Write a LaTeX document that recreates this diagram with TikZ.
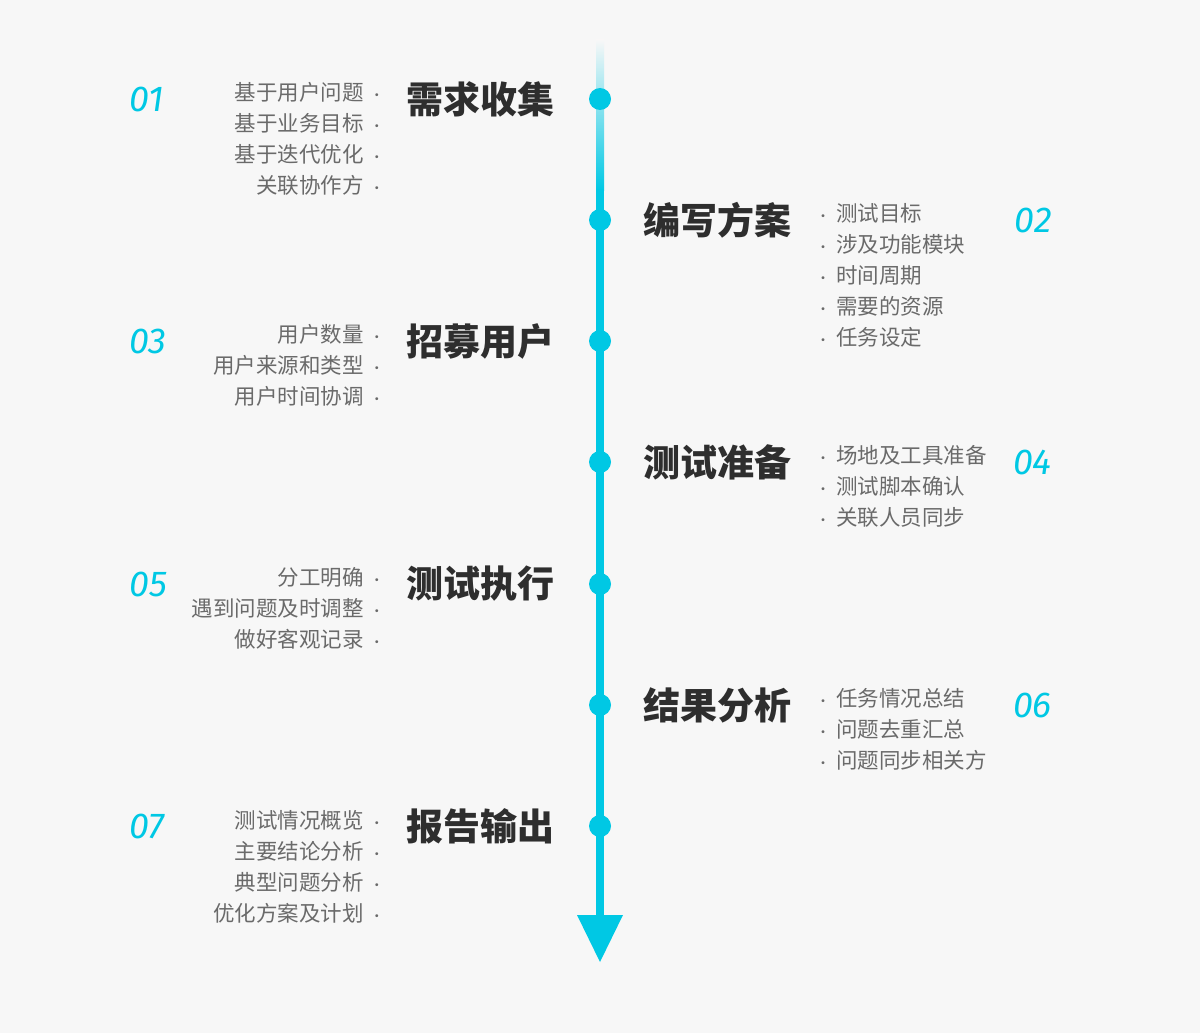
\documentclass[tikz,border=0pt]{standalone}
\usepackage{fontspec}
\setmainfont{Noto Sans CJK SC}
\newfontfamily\numfont{Fira Sans}
\definecolor{cy}{HTML}{00C8E4}
\definecolor{bg}{HTML}{F7F7F7}
\definecolor{tt}{HTML}{2E2E2E}
\definecolor{it}{HTML}{6A6A6A}
\begin{document}
\begin{tikzpicture}[x=1pt,y=-1pt,
 ttl/.style={font=\fontsize{37}{37}\selectfont\bfseries,text=tt,inner sep=0},
 itm/.style={font=\fontsize{21.5}{31}\selectfont,text=it,inner sep=0,align=#1},
 num/.style={font=\numfont\itshape\fontsize{36}{36}\selectfont,text=cy,inner sep=0},
 dot/.style={circle,fill=cy,minimum size=22pt,inner sep=0}]
\fill[bg] (0,0) rectangle (1200,1033);
\useasboundingbox (0,0) rectangle (1200,1033);
\shade[top color=bg,bottom color=cy] (596,40) rectangle (604,190);
\fill[cy] (596,189) rectangle (604,916);
\coordinate (tl) at (577,915); \coordinate (tr) at (623,915); \coordinate (tp) at (600,962);
\fill[cy] (tl) -- (tr) -- (tp) -- cycle;
\foreach \y [count=\i] in {99,220,341,462,584,705,826} \node[dot] (d\i) at (600,\y) {};
\node[ttl,anchor=east] (t1) at (555,99) {需求收集};
\node[ttl,anchor=east] (t3) at (555,341) {招募用户};
\node[ttl,anchor=east] (t5) at (555,584) {测试执行};
\node[ttl,anchor=east] (t7) at (555,826) {报告输出};
\node[ttl,anchor=west] (t2) at (643,220) {编写方案};
\node[ttl,anchor=west] (t4) at (643,462) {测试准备};
\node[ttl,anchor=west] (t6) at (643,705) {结果分析};
\node[num,anchor=west] (n1) at (129,99) {01};
\node[num,anchor=west] (n3) at (129,341) {03};
\node[num,anchor=west] (n5) at (129,584) {05};
\node[num,anchor=west] (n7) at (129,826) {07};
\node[num,anchor=east] (n2) at (1052,220) {02};
\node[num,anchor=east] (n4) at (1052,462) {04};
\node[num,anchor=east] (n6) at (1052,705) {06};
\def\dt{\kern6pt{\fontsize{14}{14}\selectfont·}}
\def\td{{\fontsize{14}{14}\selectfont·}\kern6pt}
\node[itm=right,anchor=north east] (i1) at (384,82) {基于用户问题\dt\\基于业务目标\dt\\基于迭代优化\dt\\关联协作方\dt};
\node[itm=right,anchor=north east] (i3) at (384,324) {用户数量\dt\\用户来源和类型\dt\\用户时间协调\dt};
\node[itm=right,anchor=north east] (i5) at (384,567) {分工明确\dt\\遇到问题及时调整\dt\\做好客观记录\dt};
\node[itm=right,anchor=north east] (i7) at (384,810) {测试情况概览\dt\\主要结论分析\dt\\典型问题分析\dt\\优化方案及计划\dt};
\node[itm=left,anchor=north west] (i2) at (816,203) {\td 测试目标\\\td 涉及功能模块\\\td 时间周期\\\td 需要的资源\\\td 任务设定};
\node[itm=left,anchor=north west] (i4) at (816,445) {\td 场地及工具准备\\\td 测试脚本确认\\\td 关联人员同步};
\node[itm=left,anchor=north west] (i6) at (816,688) {\td 任务情况总结\\\td 问题去重汇总\\\td 问题同步相关方};
\end{tikzpicture}
\end{document}
